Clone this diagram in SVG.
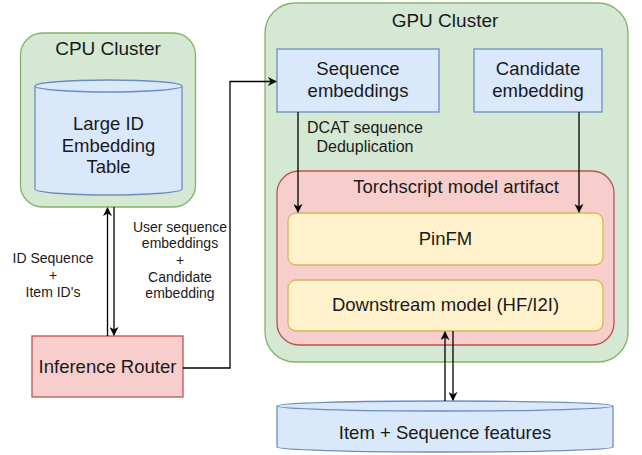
<svg xmlns="http://www.w3.org/2000/svg" width="642" height="455" viewBox="0 0 642 455">
<defs>
<style>
text{font-family:"Liberation Sans",Arial,sans-serif;fill:#1a1a1a;text-anchor:middle}
.green{fill:#d5e8d4;stroke:#82b366;stroke-width:1.3}
.blue{fill:#dae8fc;stroke:#6c8ebf;stroke-width:1.3}
.pink{fill:#f8cecc;stroke:#b85450;stroke-width:1.3}
.yellow{fill:#fff2cc;stroke:#d6b656;stroke-width:1.3}
.t18{font-size:18.5px}
.t19{font-size:19px}
.t16{font-size:16px}
.t13{font-size:14px}
.edge{fill:none;stroke:#000;stroke-width:1.3}
</style>
<marker id="arr" viewBox="0 0 10 10" refX="9" refY="5" markerWidth="9" markerHeight="9" markerUnits="userSpaceOnUse" orient="auto">
<path d="M0,0 L10,5 L0,10 L3,5 Z" fill="#000"/>
</marker>
</defs>
<rect width="642" height="455" fill="#fff"/>

<g id="cpu-cluster">
<rect class="green" x="20.5" y="33" width="175" height="174" rx="22"/>
<text class="t19" x="108" y="55">CPU Cluster</text>
</g>
<g id="id-table">
<path class="blue" d="M35,86 L35,189 A73.5,6 0 0 0 182,189 L182,86 A73.5,6 0 0 0 35,86 Z"/>
<path class="blue" fill="none" d="M35,86 A73.5,6 0 0 0 182,86"/>
<text class="t18" x="108.5" y="130">Large ID</text>
<text class="t18" x="108.5" y="152">Embedding</text>
<text class="t18" x="108.5" y="173">Table</text>
</g>

<g id="gpu-cluster">
<rect class="green" x="265" y="3" width="363" height="359" rx="30"/>
<text class="t19" x="445" y="27">GPU Cluster</text>
</g>
<g id="seq-emb">
<rect class="blue" x="277" y="49" width="162" height="63"/>
<text class="t18" x="358" y="75">Sequence</text>
<text class="t18" x="358" y="97">embeddings</text>
</g>
<g id="cand-emb">
<rect class="blue" x="474" y="49" width="128" height="63"/>
<text class="t18" x="538" y="75">Candidate</text>
<text class="t18" x="538" y="97">embedding</text>
</g>
<g id="torchscript">
<rect class="pink" x="277" y="171" width="337" height="174" rx="22"/>
<text class="t18" x="456" y="193">Torchscript model artifact</text>
</g>
<g id="pinfm">
<rect class="yellow" x="288" y="213" width="315" height="52" rx="8"/>
<text class="t18" x="445.5" y="245">PinFM</text>
</g>
<g id="downstream">
<rect class="yellow" x="288" y="280" width="315" height="51" rx="8"/>
<text class="t18" x="445.5" y="311">Downstream model (HF/I2I)</text>
</g>
<g id="features">
<path class="blue" d="M277,406 L277,447 A168,5 0 0 0 613,447 L613,406 A168,5 0 0 0 277,406 Z"/>
<path class="blue" fill="none" d="M277,406 A168,5 0 0 0 613,406"/>
<text class="t18" x="445" y="439">Item + Sequence features</text>
</g>
<g id="router">
<rect class="pink" x="32" y="336" width="151" height="61"/>
<text class="t18" x="107.5" y="373">Inference Router</text>
</g>

<g id="connectors">
<path class="edge" d="M107.5,336 L107.5,208" marker-end="url(#arr)"/>
<path class="edge" d="M114,207 L114,335" marker-end="url(#arr)"/>
<path class="edge" d="M183,368 L230,368 L230,81.5 L276,81.5" marker-end="url(#arr)"/>
<path class="edge" d="M298,112 L298,212" marker-end="url(#arr)"/>
<path class="edge" d="M579,112 L579,212" marker-end="url(#arr)"/>
<path class="edge" d="M445,401 L445,332" marker-end="url(#arr)"/>
<path class="edge" d="M453,331 L453,400" marker-end="url(#arr)"/>
<text class="t13" x="53" y="263">ID Sequence</text>
<text class="t13" x="53" y="280">+</text>
<text class="t13" x="53" y="297">Item ID's</text>
<text class="t13" x="180" y="232">User sequence</text>
<text class="t13" x="180" y="248">embeddings</text>
<text class="t13" x="180" y="265">+</text>
<text class="t13" x="180" y="282">Candidate</text>
<text class="t13" x="180" y="298">embedding</text>
<text class="t16" x="365" y="133">DCAT sequence</text>
<text class="t16" x="365" y="152">Deduplication</text>
</g>
</svg>
